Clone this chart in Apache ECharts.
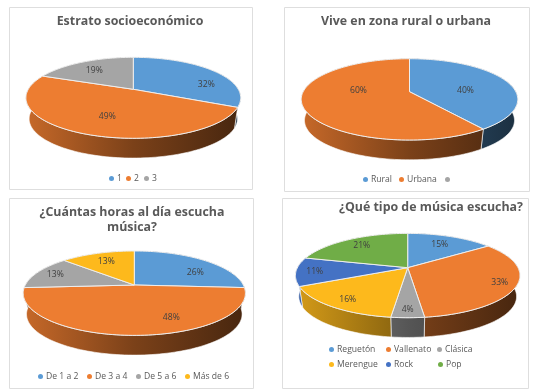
<!DOCTYPE html>
<html><head><meta charset="utf-8">
<style>html,body{margin:0;padding:0;background:#fff}#c{width:543px;height:392px;filter:blur(0.6px)}</style>
<script src="https://cdn.jsdelivr.net/npm/echarts@6/dist/echarts.min.js"></script>
</head><body><div id="c"></div>
<script>
// ---- data ----
const estratoCategories = ['1','2','3'];
const estratoValues = [32,49,19];
const zonaCategories = ['Rural','Urbana',' '];
const zonaValues = [40,60,0];
const horasCategories = ['De 1 a 2','De 3 a 4','De 5 a 6','Más de 6'];
const horasValues = [26,48,13,13];
const tipoCategories = ['Reguetón','Vallenato','Clásica','Merengue','Rock','Pop'];
const tipoValues = [15,33,4,16,11,21];
// ---- style ----
const blue='#5b9bd5',orange='#ed7d31',gray='#a5a5a5',yellow='#fdb91c',rock='#4472c4',green='#70ad47';
const panels = [
 {title:'Estrato socioeconómico',tx:130,ty:14,cats:estratoCategories,vals:estratoValues,colors:[blue,orange,gray],
  box:[9,7,243,182],cx:133.3,cy:89.3,A:105,B:38.7,k:.21,
  labels:[[73,-5],[-26,27],[-39,-19]],legend:[[109,177],[126,177],[144,177]]},
 {title:'Vive en zona rural o urbana',tx:406,ty:14,cats:zonaCategories,vals:zonaValues,colors:[blue,orange,gray],
  box:[284,7,245,184],cx:409.5,cy:91.7,A:106.3,B:39.2,k:.189,
  labels:[[56,-1],[-51,-1]],legend:[[363,178],[399,178],[445,178]]},
 {title:'¿Cuántas horas al día escucha\nmúsica?',tx:132,ty:205,cats:horasCategories,vals:horasValues,colors:[blue,orange,gray,yellow],
  box:[9,198,244,190],cx:134.3,cy:285,A:109,B:40.6,k:.194,
  labels:[[61,-12],[37,33],[-79,-10],[-28,-23]],legend:[[38,375],[87,375],[136,375],[185,375]]},
 {title:'¿Qué tipo de música escucha?',tx:431,ty:200,cats:tipoCategories,vals:tipoValues,colors:[blue,orange,gray,yellow,rock,green],
  box:[282,198,246,190],cx:407.7,cy:267.7,A:110.3,B:40.7,k:.186,
  labels:[[32,-23],[92,15],[0,42],[-60,32],[-93,4],[-46,-22]],
  legend:[[329,348],[386,348],[437,348],[329,363],[386,363],[438,363]]}
];
const wallScale=.97, wallDepth=21;

function project(p,theta,r){
  const u=r*Math.sin(theta),v=r*Math.cos(theta),w=1+p.k*v;
  return [p.cx+p.A*u/w,p.cy-p.B*v/w];
}
function midY(p){return p.cy+p.B*p.k/(1-p.k*p.k);}
function arc(p,a0,a1){
  const n=Math.max(2,Math.ceil(Math.abs(a1-a0)/0.03)),pts=[];
  for(let i=0;i<=n;i++)pts.push(project(p,a0+(a1-a0)*i/n,1));
  return pts;
}
function angles(p,i){
  const total=p.vals.reduce((a,b)=>a+b,0);
  let s=0;for(let j=0;j<i;j++)s+=p.vals[j];
  return [s/total*2*Math.PI,(s+p.vals[i])/total*2*Math.PI];
}
function shade(hex,f){
  const n=parseInt(hex.slice(1),16);
  return `rgb(${Math.round((n>>16&255)*f)},${Math.round((n>>8&255)*f)},${Math.round((n&255)*f)})`;
}
const series=[],titles=[],legends=[],graphics=[];
panels.forEach((p,pi)=>{
  graphics.push({type:'rect',shape:{x:p.box[0]+.5,y:p.box[1]+.5,width:p.box[2],height:p.box[3]},
    style:{fill:'#fff',stroke:'#dedede',lineWidth:1},z:0});
  titles.push({text:p.title,left:p.tx,top:p.ty,textAlign:'center',padding:0,
    textStyle:{fontFamily:'Open Sans',fontWeight:700,fontSize:12.4,lineHeight:15,color:'#595959'}});
  const hw=p.A/Math.sqrt(1-p.k*p.k);
  // side wall of the pie
  series.push({type:'custom',name:'wall'+pi,coordinateSystem:'none',z:2,silent:true,
    data:p.vals.map((v,i)=>[i,v]),
    renderItem(params,api){
      const i=api.value(0);
      if(!api.value(1))return null;
      const [a0,a1]=angles(p,i),my=midY(p),top=arc(p,a0,a1);
      const bot=top.slice().reverse().map(q=>[p.cx+(q[0]-p.cx)*wallScale,my+(q[1]-my)*wallScale+wallDepth]);
      const c=p.colors[i];
      return {type:'polygon',shape:{points:top.concat(bot)},style:{
        fill:new echarts.graphic.LinearGradient(p.cx-hw,0,p.cx+hw,0,
          [{offset:0,color:shade(c,.84)},{offset:.5,color:shade(c,.52)},{offset:1,color:shade(c,.3)}],true),
        stroke:'rgba(255,255,255,.75)',lineWidth:.8}};
    }});
  // top face, one series per category so the legend can name it
  p.cats.forEach((name,i)=>{
    const color=p.colors[i];
    series.push({type:'custom',name,coordinateSystem:'none',z:3,silent:true,
      itemStyle:{color},data:[[i,p.vals[i]]],
      renderItem(params,api){
        if(!api.value(1))return null;
        const [a0,a1]=angles(p,i);
        const pts=[[p.cx,p.cy]].concat(arc(p,a0,a1));
        const lab=p.labels[i];
        return {type:'group',children:[
          {type:'polygon',z2:1,shape:{points:pts},style:{fill:color,stroke:'#eeeeee',lineWidth:1}},
          {type:'text',z2:5,style:{text:api.value(1)+'%',x:p.cx+lab[0],y:p.cy+lab[1],align:'center',verticalAlign:'middle',
            fontFamily:'Open Sans',fontSize:8.6,fill:'#404040'}}
        ]};
      }});
    legends.push({data:[name],left:p.legend[i][0],top:p.legend[i][1]-3,icon:'circle',itemWidth:5,itemHeight:5,itemGap:0,
      padding:0,selectedMode:false,textStyle:{fontFamily:'Open Sans',fontSize:8.6,color:'#595959',padding:[0,0,0,-2]}});
  });
});
const chart=echarts.init(document.getElementById('c'),null,{renderer:'canvas'});
chart.setOption({animation:false,backgroundColor:'#fff',title:titles,legend:legends,
  graphic:{elements:graphics},series});
</script></body></html>
